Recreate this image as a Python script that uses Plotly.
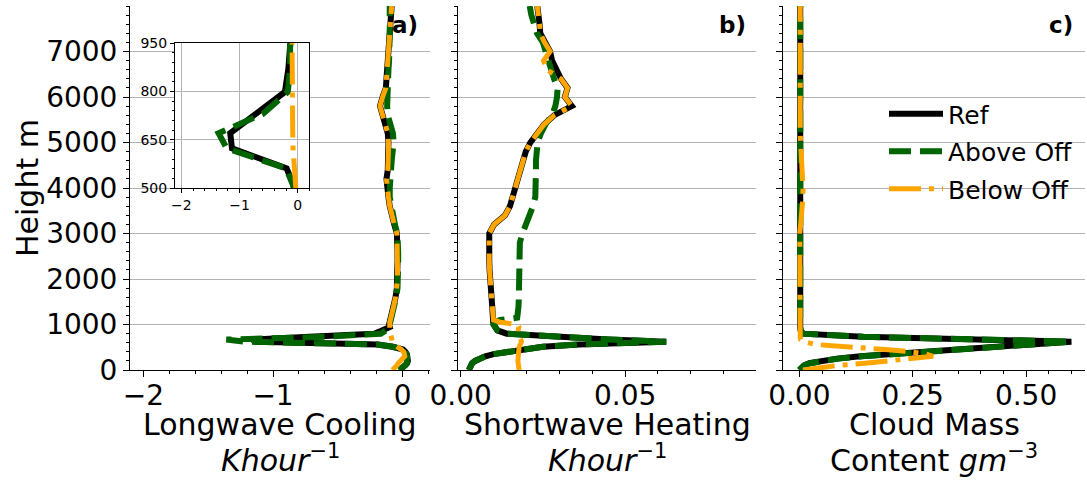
import plotly.graph_objects as go

# ---------------- data ----------------
heights = [0, 50, 100, 150, 200, 250, 300, 350, 400, 450, 510, 561, 623, 670, 730, 798, 870, 943,
           1000, 1050, 1100, 1150, 1250, 1400, 1600, 1800, 2000, 2200, 2400, 2600, 2800, 3000,
           3200, 3400, 3600, 3800, 4000, 4200, 4400, 4600, 4800, 5000, 5200, 5400, 5600, 5800,
           6000, 6200, 6400, 6600, 6800, 7000, 7200, 7400, 7600, 7800, 8000]

# Longwave cooling (K/hour)
lw_ref = [-0.02, 0.005, 0.025, 0.035, 0.040, 0.040, 0.038, 0.032, 0.020, 0.002, -0.075, -0.19, -1.13, -1.16, -0.72, -0.22, -0.16, -0.10,
          -0.105, -0.10, -0.095, -0.09, -0.08, -0.07, -0.055, -0.045, -0.04, -0.04, -0.04, -0.04, -0.042, -0.045,
          -0.065, -0.085, -0.10, -0.11, -0.12, -0.125, -0.115, -0.11, -0.11, -0.11, -0.115, -0.135, -0.155, -0.175,
          -0.155, -0.13, -0.125, -0.12, -0.115, -0.11, -0.105, -0.10, -0.095, -0.09, -0.085]
lw_above = [-0.03, 0.0, 0.02, 0.032, 0.036, 0.036, 0.034, 0.028, 0.016, 0.0, -0.08, -0.20, -1.22, -1.36, -0.60, -0.17, -0.13, -0.10,
            -0.10, -0.095, -0.09, -0.085, -0.075, -0.065, -0.05, -0.04, -0.035, -0.035, -0.035, -0.035, -0.038, -0.042,
            -0.06, -0.075, -0.095, -0.10, -0.10, -0.10, -0.09, -0.085, -0.075, -0.07, -0.075, -0.095, -0.115, -0.12,
            -0.12, -0.115, -0.11, -0.11, -0.105, -0.10, -0.10, -0.10, -0.10, -0.10, -0.10]
lw_below = [-0.08, -0.06, -0.045, -0.035, -0.022, 0.0, 0.016, 0.015, 0.008, -0.01, -0.045, -0.07, -0.08, -0.085, -0.09, -0.095, -0.10, -0.10,
            -0.105, -0.10, -0.095, -0.09, -0.08, -0.07, -0.055, -0.045, -0.04, -0.04, -0.04, -0.04, -0.042, -0.045,
            -0.065, -0.085, -0.10, -0.11, -0.12, -0.125, -0.115, -0.11, -0.11, -0.11, -0.115, -0.135, -0.155, -0.175,
            -0.155, -0.13, -0.125, -0.12, -0.115, -0.11, -0.105, -0.10, -0.095, -0.09, -0.085]

# Shortwave heating (K/hour)
sw_ref = [0.0025, 0.0027, 0.0030, 0.0035, 0.0044, 0.0056, 0.0075, 0.0100, 0.0145, 0.0185, 0.0250, 0.0360, 0.0625, 0.0450, 0.0260, 0.0140, 0.0112, 0.0104,
          0.0100, 0.0099, 0.0098, 0.0098, 0.0097, 0.0096, 0.0094, 0.0091, 0.0090, 0.0088, 0.0087, 0.0086, 0.0085, 0.0087,
          0.0102, 0.0135, 0.0150, 0.0157, 0.0165, 0.0174, 0.0182, 0.0190, 0.0198, 0.0212, 0.0231, 0.0254, 0.0285, 0.0338,
          0.0317, 0.0325, 0.0305, 0.0290, 0.0278, 0.0272, 0.0255, 0.0242, 0.0240, 0.0237, 0.0233]
sw_above = [0.0025, 0.0027, 0.0030, 0.0035, 0.0044, 0.0056, 0.0075, 0.0100, 0.0145, 0.0185, 0.0250, 0.0360, 0.0625, 0.0450, 0.0260, 0.0140, 0.0112, 0.0104,
            0.0100, 0.0103, 0.0120, 0.0172, 0.0175, 0.0176, 0.0177, 0.0178, 0.0178, 0.0177, 0.0177, 0.0178, 0.0180, 0.0188,
            0.0199, 0.0210, 0.0220, 0.0227, 0.0229, 0.0229, 0.0229, 0.0229, 0.0230, 0.0234, 0.0244, 0.0258, 0.0278, 0.0288,
            0.0293, 0.0295, 0.0284, 0.0276, 0.0270, 0.0262, 0.0250, 0.0232, 0.0223, 0.0215, 0.0210]
sw_below = [0.0178, 0.0178, 0.0177, 0.0175, 0.0174, 0.0174, 0.0175, 0.0175, 0.0176, 0.0177, 0.0178, 0.0181, 0.0185, 0.0183, 0.0178, 0.0175, 0.0175, 0.0177,
            0.0170, 0.0120, 0.0100, 0.0099, 0.0097, 0.0096, 0.0094, 0.0091, 0.0090, 0.0088, 0.0087, 0.0086, 0.0085, 0.0087,
            0.0102, 0.0135, 0.0150, 0.0157, 0.0165, 0.0174, 0.0182, 0.0190, 0.0198, 0.0212, 0.0231, 0.0254, 0.0285, 0.0338,
            0.0317, 0.0325, 0.0305, 0.0262, 0.0252, 0.0272, 0.0255, 0.0242, 0.0240, 0.0237, 0.0233]

# Cloud mass content (g m^-3)
cmc_ref = [0.000, 0.004, 0.010, 0.022, 0.045, 0.083, 0.135, 0.215, 0.290, 0.360, 0.440, 0.510, 0.600, 0.360, 0.140, 0.008, 0.003, 0.002,
           0.002, 0.002, 0.002, 0.002, 0.002, 0.002, 0.002, 0.002, 0.002, 0.002, 0.002, 0.002, 0.002, 0.002,
           0.002, 0.002, 0.002, 0.002, 0.002, 0.002, 0.002, 0.002, 0.002, 0.002, 0.002, 0.002, 0.002, 0.002,
           0.002, 0.002, 0.002, 0.002, 0.002, 0.002, 0.002, 0.002, 0.002, 0.002, 0.002]
cmc_above = [0.000, 0.004, 0.011, 0.024, 0.048, 0.086, 0.138, 0.218, 0.292, 0.362, 0.442, 0.512, 0.598, 0.362, 0.142, 0.009, 0.003, 0.002,
             0.002, 0.002, 0.002, 0.002, 0.002, 0.002, 0.002, 0.002, 0.002, 0.002, 0.002, 0.002, 0.002, 0.003,
             0.003, 0.004, 0.004, 0.003, 0.003, 0.002, 0.002, 0.002, 0.002, 0.002, 0.002, 0.002, 0.002, 0.002,
             0.002, 0.002, 0.002, 0.002, 0.002, 0.002, 0.002, 0.002, 0.002, 0.002, 0.002]
cmc_below = [0.008, 0.040, 0.085, 0.145, 0.205, 0.260, 0.295, 0.280, 0.245, 0.190, 0.095, 0.035, 0.010, 0.003, 0.002, 0.002, 0.002, 0.002,
             0.002, 0.002, 0.002, 0.002, 0.002, 0.002, 0.002, 0.001, 0.001, 0.001, 0.000, 0.000, 0.000, 0.001,
             0.003, 0.005, 0.007, 0.008, 0.008, 0.007, 0.005, 0.003, 0.002, 0.002, 0.002, 0.002, 0.002, 0.002,
             0.002, 0.002, 0.002, 0.002, 0.002, 0.002, 0.002, 0.002, 0.002, 0.002, 0.002]

series_names = ["Ref", "Above Off", "Below Off"]
y_tickvals = [0, 1000, 2000, 3000, 4000, 5000, 6000, 7000]
y_ticktext = ["0", "1000", "2000", "3000", "4000", "5000", "6000", "7000"]
xa_tickvals, xa_ticktext = [-2, -1, 0], ["\u22122", "\u22121", "0"]
xb_tickvals, xb_ticktext = [0, 0.05], ["0.00", "0.05"]
xc_tickvals, xc_ticktext = [0, 0.25, 0.5], ["0.00", "0.25", "0.50"]
inset_y_tickvals = [500, 650, 800, 950]

# ---------------- styling ----------------
FONT = "DejaVu Sans"
W, H = 1087, 482
styles = [
    dict(color="black", width=6, dash="solid"),
    dict(color="darkgreen", width=6, dash="22px,9px"),
    dict(color="orange", width=5, dash="32px,8px,5px,8px"),
]

fig = go.Figure()
panels = [
    ("x", "y", [lw_ref, lw_above, lw_below], False),
    ("x2", "y2", [sw_ref, sw_above, sw_below], False),
    ("x3", "y3", [cmc_ref, cmc_above, cmc_below], True),
    ("x4", "y4", [lw_ref, lw_above, lw_below], False),
]
for xr, yr, data, leg in panels:
    for name, vals, st in zip(series_names, data, styles):
        fig.add_trace(go.Scatter(
            x=vals, y=heights, mode="lines", name=name, xaxis=xr, yaxis=yr,
            line=st, showlegend=leg, legendgroup=name,
        ))

def px_x(p):
    return p / W

def px_y(p):
    return (H - p) / H

ydom = [px_y(370), px_y(6)]
GRID = "#b3b3b3"

def yaxis_main(dom_anchor, labels):
    return dict(
        domain=ydom, anchor=dom_anchor, range=[0, 8000], automargin=False,
        tickmode="array", tickvals=y_tickvals, ticktext=y_ticktext,
        showticklabels=labels, ticks="outside", ticklen=6, tickcolor="black", tickwidth=1,
        minor=dict(tick0=0, dtick=200, ticks="outside", ticklen=3, tickcolor="black", showgrid=False),
        showgrid=True, gridcolor=GRID, gridwidth=1, zeroline=False,
        showline=True, linecolor="black", linewidth=1,
        tickfont=dict(family=FONT, size=28, color="black"),
    )

def xaxis_main(dom, anchor, rng, tv, tt, mdt):
    return dict(
        domain=dom, anchor=anchor, range=rng, automargin=False,
        tickmode="array", tickvals=tv, ticktext=tt,
        ticks="outside", ticklen=6, tickcolor="black", tickwidth=1,
        ticklabelstandoff=-6,
        minor=dict(tick0=0, dtick=mdt, ticks="outside", ticklen=3, tickcolor="black", showgrid=False),
        showgrid=False, zeroline=False, showline=True, linecolor="black", linewidth=1,
        tickfont=dict(family=FONT, size=28, color="black"),
    )

fig.update_layout(
    width=W, height=H, autosize=False,
    margin=dict(l=0, r=0, t=0, b=0, pad=0, autoexpand=False),
    paper_bgcolor="white", plot_bgcolor="white",
    font=dict(family=FONT, color="black"),
    xaxis=xaxis_main([px_x(130), px_x(430)], "y", [-2.103, 0.2105], xa_tickvals, xa_ticktext, 0.2),
    yaxis=yaxis_main("x", True),
    xaxis2=xaxis_main([px_x(458), px_x(756)], "y2", [-0.0008, 0.0898], xb_tickvals, xb_ticktext, 0.01),
    yaxis2=yaxis_main("x2", False),
    xaxis3=xaxis_main([px_x(783), px_x(1085)], "y3", [-0.036, 0.63], xc_tickvals, xc_ticktext, 0.05),
    yaxis3=yaxis_main("x3", False),
    xaxis4=dict(
        domain=[px_x(175), px_x(309.3)], anchor="y4", range=[-2.11, 0.2], automargin=False,
        tickmode="array", tickvals=xa_tickvals, ticktext=xa_ticktext,
        ticks="outside", ticklen=4, tickcolor="black",
        minor=dict(tick0=0, dtick=0.2, ticks="outside", ticklen=2, tickcolor="black", showgrid=False),
        showgrid=True, gridcolor=GRID, zeroline=False, showline=True, mirror=True,
        linecolor="black", linewidth=1, tickfont=dict(family=FONT, size=14, color="black"),
    ),
    yaxis4=dict(
        domain=[px_y(188), px_y(43)], anchor="x4", range=[500, 950], automargin=False,
        tickmode="array", tickvals=inset_y_tickvals,
        ticks="outside", ticklen=4, tickcolor="black",
        minor=dict(tick0=500, dtick=30, ticks="outside", ticklen=2, tickcolor="black", showgrid=False),
        showgrid=True, gridcolor=GRID, zeroline=False, showline=True, mirror=True,
        linecolor="black", linewidth=1, tickfont=dict(family=FONT, size=14, color="black"),
    ),
    legend=dict(
        x=px_x(884), y=px_y(91), xanchor="left", yanchor="top",
        bgcolor="rgba(0,0,0,0)", borderwidth=0,
        font=dict(family=FONT, size=25, color="black"),
        itemwidth=54, tracegroupgap=2, traceorder="grouped",
    ),
)

ann = []
def add_text(text, xp, yp, size, xanchor="center", angle=0):
    ann.append(dict(text=text, x=px_x(xp), y=px_y(yp), xref="paper", yref="paper",
                    showarrow=False, xanchor=xanchor, yanchor="middle", textangle=angle,
                    font=dict(family=FONT, size=size, color="black")))

add_text("Height m", 28, 188, 30, angle=-90)
add_text("Longwave Cooling", 280, 424.6, 30)
add_text("<i>Khour</i><sup>\u22121</sup>", 280, 458, 30)
add_text("Shortwave Heating", 607, 424.6, 30)
add_text("<i>Khour</i><sup>\u22121</sup>", 607, 458, 30)
add_text("Cloud Mass", 934, 424.6, 30)
add_text("Content <i>gm</i><sup>\u22123</sup>", 934, 458, 30)
add_text("<b>a)</b>", 420, 24.5, 23, xanchor="right")
add_text("<b>b)</b>", 748, 24.5, 23, xanchor="right")
add_text("<b>c)</b>", 1075, 24.5, 23, xanchor="right")
fig.update_layout(annotations=ann)

fig.write_html("out.html")
